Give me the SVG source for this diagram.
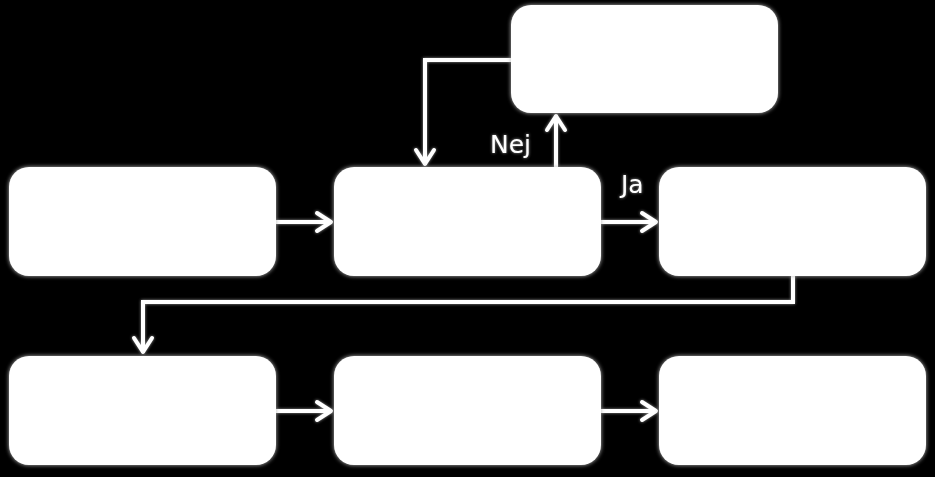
<svg xmlns="http://www.w3.org/2000/svg" width="935" height="477" viewBox="0 0 935 477">
<style>
.box{fill:#fff;filter:url(#glow)}
.conn{fill:none;stroke:#fff;stroke-width:4}
.lbl{fill:#fff;font-family:"DejaVu Sans",Verdana,sans-serif;font-size:25px}
</style>
<defs>
<filter id="glow" x="-10%" y="-10%" width="120%" height="120%">
<feGaussianBlur in="SourceAlpha" stdDeviation="2" result="b"/>
<feFlood flood-color="#bbb" result="c"/>
<feComposite in="c" in2="b" operator="in" result="g"/>
<feMerge><feMergeNode in="g"/><feMergeNode in="SourceGraphic"/></feMerge>
</filter>
<filter id="glowc" filterUnits="userSpaceOnUse" x="0" y="0" width="935" height="477">
<feGaussianBlur in="SourceAlpha" stdDeviation="1.5" result="b"/>
<feFlood flood-color="#999" result="c"/>
<feComposite in="c" in2="b" operator="in" result="g"/>
<feMerge><feMergeNode in="g"/><feMergeNode in="SourceGraphic"/></feMerge>
</filter>
<marker id="arr" viewBox="0 0 20 24" refX="18" refY="12" markerWidth="20" markerHeight="24" markerUnits="userSpaceOnUse" orient="auto">
<path d="M3,3 L17,12 L3,21" fill="none" stroke="#fff" stroke-width="4" stroke-linecap="round" stroke-linejoin="round"/>
</marker>
</defs>
<rect width="935" height="477" fill="#000"/>
<g id="connectors" filter="url(#glowc)">
<path class="conn" d="M276,222 H332" marker-end="url(#arr)"/>
<path class="conn" d="M601,222 H657" marker-end="url(#arr)"/>
<path class="conn" d="M556,167 V115" marker-end="url(#arr)"/>
<path class="conn" d="M511,60 H425 V165" marker-end="url(#arr)"/>
<path class="conn" d="M793,276 V302 H143 V353" marker-end="url(#arr)"/>
<path class="conn" d="M276,411 H332" marker-end="url(#arr)"/>
<path class="conn" d="M601,411 H657" marker-end="url(#arr)"/>
<text class="lbl" x="490" y="153">Nej</text>
<text class="lbl" x="621" y="193">Ja</text>
</g>
<g id="n_top"><rect class="box" x="511" y="5" width="267" height="108" rx="20"/></g>
<g id="n_a"><rect class="box" x="9" y="167" width="267" height="109" rx="20"/></g>
<g id="n_b"><rect class="box" x="334" y="167" width="267" height="109" rx="20"/></g>
<g id="n_c"><rect class="box" x="659" y="167" width="267" height="109" rx="20"/></g>
<g id="n_d"><rect class="box" x="9" y="356" width="267" height="109" rx="20"/></g>
<g id="n_e"><rect class="box" x="334" y="356" width="267" height="109" rx="20"/></g>
<g id="n_f"><rect class="box" x="659" y="356" width="267" height="109" rx="20"/></g>
</svg>
